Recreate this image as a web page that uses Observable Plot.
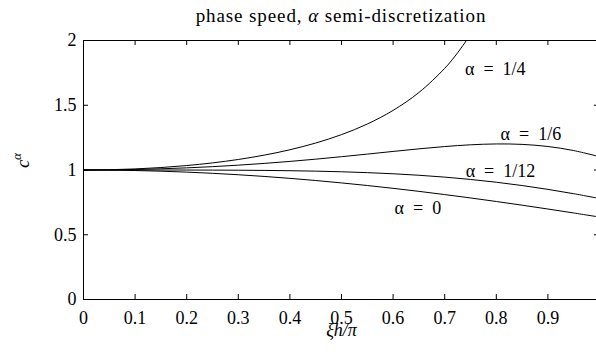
<!DOCTYPE html>
<html><head><meta charset="utf-8">
<script src="https://cdn.jsdelivr.net/npm/d3@7"></script>
<script src="https://cdn.jsdelivr.net/npm/@observablehq/plot@0.6"></script>
<style>
html,body{margin:0;padding:0;background:#fff;overflow:hidden;width:596px;height:358px}
#wrap{width:600px}
#title{height:28px;box-sizing:border-box;padding-top:6px;padding-left:83px;width:599px;font-family:"Liberation Serif",serif;font-size:19px;line-height:19px;letter-spacing:0.9px;color:#000}
#title .in{display:block;width:516px;text-align:center;white-space:nowrap}
svg{max-width:none !important}
svg text, svg tspan{font-family:"Liberation Serif",serif !important}
</style></head><body>
<div id="wrap"><div id="title"><span class="in">phase speed, <i>α</i> semi-discretization</span></div><div id="chart"></div></div>
<script>
// x = ξh/π
const xs = [0, 0.05, 0.1, 0.15, 0.2, 0.25, 0.3, 0.35, 0.4, 0.45, 0.5, 0.55, 0.6, 0.65, 0.7, 0.75, 0.8, 0.85, 0.9, 0.95, 1];
const alpha0  = [1, 0.9990, 0.9959, 0.9908, 0.9836, 0.9745, 0.9634, 0.9504, 0.9355, 0.9188, 0.9003, 0.8802, 0.8584, 0.8351, 0.8103, 0.7842, 0.7568, 0.7283, 0.6986, 0.6681, 0.6366];
const alpha12 = [1, 1.0000, 1.0000, 0.9999, 0.9997, 0.9992, 0.9983, 0.9968, 0.9945, 0.9911, 0.9863, 0.9796, 0.9708, 0.9594, 0.9450, 0.9271, 0.9056, 0.8800, 0.8505, 0.8169, 0.7797];
const alpha6  = [1, 1.0010, 1.0041, 1.0093, 1.0165, 1.0259, 1.0373, 1.0508, 1.0663, 1.0837, 1.1027, 1.1228, 1.1434, 1.1633, 1.1811, 1.1946, 1.2012, 1.1978, 1.1815, 1.1501, 1.1027];
const xs4     = [0, 0.05, 0.1, 0.15, 0.2, 0.25, 0.3, 0.35, 0.4, 0.45, 0.5, 0.55, 0.6, 0.65, 0.7, 0.72, 0.74, 0.75];
const alpha4  = [1, 1.0021, 1.0083, 1.0189, 1.0343, 1.0548, 1.0813, 1.1146, 1.1563, 1.2083, 1.2732, 1.3552, 1.4604, 1.5983, 1.7849, 1.879, 1.988, 2.049];

const xTicks = [0, 0.1, 0.2, 0.3, 0.4, 0.5, 0.6, 0.7, 0.8, 0.9, 1];
const xTickLabels = ["0", "0.1", "0.2", "0.3", "0.4", "0.5", "0.6", "0.7", "0.8", "0.9", "1"];
const yTicks = [0, 0.5, 1, 1.5, 2];
const yTickLabels = ["0", "0.5", "1", "1.5", "2"];

const labelText = ["α\u2002=\u20021/4", "α\u2002=\u20021/6", "α\u2002=\u20021/12", "α\u2002=\u20020"];
const labelX = [0.798, 0.867, 0.808, 0.648];
const labelY = [1.776, 1.275, 0.989, 0.701];

const xFmt = new Map(xTicks.map((d, i) => [d, xTickLabels[i]]));
const yFmt = new Map(yTicks.map((d, i) => [d, yTickLabels[i]]));

const FF = "Liberation Serif";
const lineOpts = {stroke: "black", strokeWidth: 1, curve: "catmull-rom", clip: true};

const fig = Plot.plot({
  width: 600, height: 330,
  marginTop: 12, marginBottom: 59, marginLeft: 83, marginRight: 1,
  x: {domain: [0, 1]},
  y: {domain: [0, 2]},
  style: {fontFamily: FF, fontSize: "18px", background: "white", color: "black"},
  marks: [
    Plot.axisX({ticks: xTicks, tickFormat: d => xFmt.get(d), tickSize: 0, tickPadding: 12, label: null, fontFamily: FF, fontSize: 18}),
    Plot.axisY({ticks: yTicks, tickFormat: d => yFmt.get(d), tickSize: 0, tickPadding: 7, label: null, fontFamily: FF, fontSize: 18}),
    Plot.tickX(xTicks, {x: d => d, insetTop: 254, stroke: "black"}),
    Plot.tickX(xTicks, {x: d => d, insetBottom: 254, stroke: "black"}),
    Plot.tickY(yTicks, {y: d => d, insetRight: 511, stroke: "black"}),
    Plot.tickY(yTicks, {y: d => d, insetLeft: 511, stroke: "black"}),
    Plot.line(alpha0, {x: (d, i) => xs[i], y: d => d, ...lineOpts}),
    Plot.line(alpha12, {x: (d, i) => xs[i], y: d => d, ...lineOpts}),
    Plot.line(alpha6, {x: (d, i) => xs[i], y: d => d, ...lineOpts}),
    Plot.line(alpha4, {x: (d, i) => xs4[i], y: d => d, ...lineOpts}),
    Plot.frame({stroke: "black", strokeWidth: 1}),
    Plot.text(labelText, {x: (d, i) => labelX[i], y: (d, i) => labelY[i], text: d => d, fontFamily: FF, fontSize: 18, lineAnchor: "middle"}),
    Plot.text(["ξh/π"], {frameAnchor: "bottom", dy: 31, lineAnchor: "middle", text: d => d, fontFamily: FF, fontStyle: "italic", fontSize: 18}),
    Plot.text(["c"], {frameAnchor: "left", dx: -61, dy: -2, lineAnchor: "middle", rotate: -90, text: d => d, fontFamily: FF, fontStyle: "italic", fontSize: 19}),
    Plot.text(["α"], {frameAnchor: "left", dx: -67, dy: -10, lineAnchor: "middle", rotate: -90, text: d => d, fontFamily: FF, fontStyle: "italic", fontSize: 13})
  ]
});
document.getElementById("chart").appendChild(fig);
</script></body></html>
